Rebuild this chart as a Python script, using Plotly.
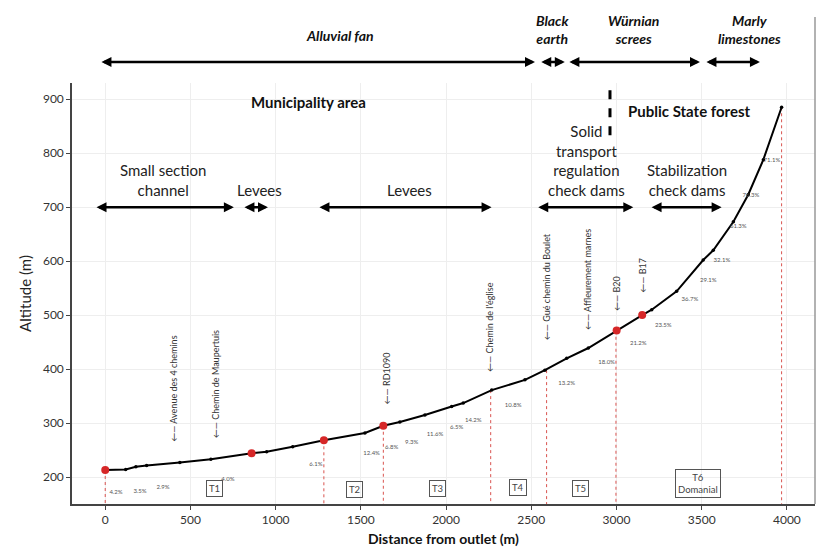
import plotly.graph_objects as go

# ---------------- data ----------------
dist = [0, 120, 180, 243, 438, 620, 859, 947, 1100, 1283, 1524, 1632, 1729, 1876, 2033, 2101,
        2268, 2463, 2580, 2708, 2835, 3001, 3151, 3207, 3353, 3509, 3568, 3686, 3773, 3862, 3969]
alt = [213, 214, 219, 221.5, 227, 233, 244, 247, 256, 268, 281.5, 295, 302, 315, 330.7, 337,
       361, 380, 398, 420, 439, 471.5, 500, 510, 544, 602, 620, 673, 723, 788, 885]

red_x = [0, 859, 1283, 1632, 3001, 3151]
red_y = [213, 244, 268, 295, 471.5, 500]

vline_x = [0, 1283, 1632, 2262, 2590, 2997, 3969]
vline_top = [213, 268, 295, 361, 398, 471, 885]

pct_labels = ["4.2%", "3.5%", "2.9%", "4.0%", "6.1%", "12.4%", "6.8%", "9.3%", "11.6%", "6.5%",
              "14.2%", "10.8%", "13.2%", "18.0%", "21.2%", "23.5%", "36.7%", "29.1%", "32.1%",
              "61.3%", "76.3%", "71.1%"]
pct_x = [63, 204, 339, 720, 1236, 1563, 1681, 1798, 1935, 2062, 2160, 2394, 2708, 2942, 3128,
         3275, 3431, 3539, 3619, 3715, 3789, 3912]
pct_y = [171, 173, 180, 195, 223, 243, 255, 264, 279, 292, 305, 332, 374, 412, 448, 481, 528,
         565, 602, 664, 721, 786]

sec_labels = ["T1", "T2", "T3", "T4", "T5", "T6<br>Domanial"]
sec_x = [643, 1465, 1948, 2424, 2790, 3480]
sec_y = [178, 177, 178, 180, 178, 188]

road_labels = ["\u2190\u2014 Avenue des 4 chemins", "\u2190\u2014 Chemin de Maupertuis",
               "\u2190\u2014 RD1090", "\u2190\u2014 Chemin de l'\u00e9glise",
               "\u2190\u2014 Gu\u00e9 chemin du Boulet", "\u2190\u2014 Affleurement marnes",
               "\u2190\u2014 B20", "\u2190\u2014 B17"]
road_x = [399, 644, 1651, 2258, 2590, 2834, 3000, 3148]
road_y = [262, 268, 330, 391, 450, 468, 504, 538]

# management arrows (y = 700)
mgmt_start = [-60, 808, 1248, 2532, 3197]
mgmt_end = [755, 955, 2267, 3099, 3617]
mgmt_y = 700
mgmt_labels = ["Small section<br>channel", "Levees", "Levees",
               "Solid<br>transport<br>regulation<br>check dams", "Stabilization<br>check dams"]
mgmt_lx = [340, 905, 1788, 2825, 3412]

# geology arrows (top, above plot)
geo_start = [-31, 2550, 2715, 3519]
geo_end = [2522, 2697, 3490, 3842]
geo_labels = ["Alluvial fan", "Black<br>earth", "W\u00fcrnian<br>screes", "Marly<br>limestones"]
geo_lx = [1378, 2627, 3097, 3783]
geo_ly = [1.112, 1.126, 1.126, 1.126]

x_ticks = [0, 500, 1000, 1500, 2000, 2500, 3000, 3500, 4000]
y_ticks = [200, 300, 400, 500, 600, 700, 800, 900]

FONT = "Lato"
fig = go.Figure()

# red dotted verticals
for vx, vt in zip(vline_x, vline_top):
    fig.add_trace(go.Scatter(x=[vx, vx], y=[vt, 150], mode="lines",
                             line=dict(color="#d9534f", width=1, dash="dot"),
                             hoverinfo="skip", showlegend=False))

# profile
fig.add_trace(go.Scatter(x=dist, y=alt, mode="lines+markers",
                         line=dict(color="black", width=2),
                         marker=dict(color="black", size=3.5),
                         showlegend=False))
fig.add_trace(go.Scatter(x=red_x, y=red_y, mode="markers",
                         marker=dict(color="#d62728", size=8),
                         showlegend=False))

# percent labels
fig.add_trace(go.Scatter(x=pct_x, y=pct_y, mode="text", text=pct_labels,
                         textfont=dict(size=6, color="#555", family=FONT),
                         showlegend=False))

fig.add_trace(go.Scatter(x=[2962, 2962], y=[833, 921], mode="lines",
                         line=dict(color="black", width=3, dash="dash"),
                         hoverinfo="skip", showlegend=False))

ann = []
# section boxes
for t, sx, sy in zip(sec_labels, sec_x, sec_y):
    ann.append(dict(x=sx, y=sy, text=t, showarrow=False, font=dict(size=9.5, color="#444", family=FONT),
                    bordercolor="#555", borderwidth=1, borderpad=2, bgcolor="rgba(255,255,255,0)"))
# road labels
for t, rx, ry in zip(road_labels, road_x, road_y):
    ann.append(dict(x=rx, y=ry, text=t, textangle=-90, showarrow=False, yanchor="bottom",
                    xanchor="center", font=dict(size=9, color="#333", family=FONT)))
# management arrows
for s, e in zip(mgmt_start, mgmt_end):
    ann.append(dict(x=e, y=mgmt_y, ax=s, ay=mgmt_y, xref="x", yref="y", axref="x", ayref="y",
                    text="", showarrow=True, arrowhead=2, arrowside="end+start",
                    arrowwidth=2.5, arrowcolor="black", arrowsize=0.8))
for t, lx in zip(mgmt_labels, mgmt_lx):
    ann.append(dict(x=lx, y=mgmt_y + 12, text=t, showarrow=False, yanchor="bottom",
                    font=dict(size=15, color="#222", family=FONT)))
# geology arrows (paper y above plot)
GEO_Y = 1.050
for s, e in zip(geo_start, geo_end):
    ann.append(dict(x=e, y=GEO_Y, ax=s, ay=0, xref="x", yref="paper", axref="x", ayref="pixel",
                    text="", showarrow=True, arrowhead=2, arrowside="end+start",
                    arrowwidth=2.5, arrowcolor="black", arrowsize=0.8))
for t, lx, ly in zip(geo_labels, geo_lx, geo_ly):
    ann.append(dict(x=lx, y=ly, xref="x", yref="paper", text="<b><i>" + t + "</i></b>",
                    showarrow=False, yanchor="middle",
                    font=dict(size=14, color="#111", family=FONT)))
# area titles
ann.append(dict(x=1190, y=895, text="<b>Municipality area</b>", showarrow=False,
                font=dict(size=15, color="#111", family=FONT)))
ann.append(dict(x=3430, y=879, text="<b>Public State forest</b>", showarrow=False,
                font=dict(size=15, color="#111", family=FONT)))

fig.update_layout(
    width=819, height=549,
    margin=dict(l=72, r=4, t=83, b=45),
    plot_bgcolor="white", paper_bgcolor="white",
    annotations=ann,
    font=dict(family=FONT, color="#333"),
    shapes=[dict(type="line", xref="paper", yref="paper", x0=1, x1=1, y0=0, y1=1.157,
                 line=dict(color="#999", width=1.5))],
)
fig.update_xaxes(range=[-195, 4165], tickvals=x_ticks, showgrid=True, gridcolor="#eeeeee",
                 showline=True, linecolor="#444", linewidth=1.5, ticks="outside", ticklen=4,
                 tickcolor="#444", tickfont=dict(size=12, color="#333"), zeroline=False,
                 title=dict(text="<b>Distance from outlet (m)</b>", font=dict(size=14, color="#111"),
                            standoff=8))
fig.update_yaxes(range=[150, 930], tickvals=y_ticks, showgrid=True, gridcolor="#eeeeee",
                 showline=True, linecolor="#444", linewidth=1.5, ticks="outside", ticklen=4,
                 tickcolor="#444", tickfont=dict(size=12, color="#333"), zeroline=False,
                 title=dict(text="Altitude (m)", font=dict(size=15, color="#222"), standoff=8))

fig.write_html("out.html")
